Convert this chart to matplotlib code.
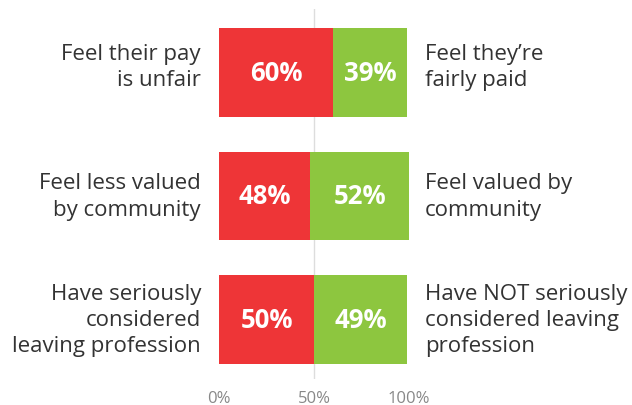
import matplotlib
matplotlib.use("Agg")
import matplotlib.pyplot as plt

plt.rcParams['font.family'] = ['Open Sans', 'DejaVu Sans']

# data
left_labels = ["Feel their pay\nis unfair",
               "Feel less valued\nby community",
               "Have seriously\nconsidered\nleaving profession"]
right_labels = ["Feel they\u2019re\nfairly paid",
                "Feel valued by\ncommunity",
                "Have NOT seriously\nconsidered leaving\nprofession"]
neg_vals = [60, 48, 50]
pos_vals = [39, 52, 49]
ticks = [0, 50, 100]
tick_labels = ["0%", "50%", "100%"]

red = "#EE3537"
green = "#8DC63F"
txt = "#333333"

fig = plt.figure(figsize=(6.32, 4.06), dpi=100)
W, H = 632, 406
# axes from x 219..409 px, y 10..380 px
ax = fig.add_axes([219 / W, (H - 380) / H, 190 / W, 370 / H])

y = list(range(len(neg_vals)))
ax.axvline(50, color="#dddddd", lw=1, zorder=0)
ax.barh(y, neg_vals, height=0.72, color=red, zorder=2)
ax.barh(y, pos_vals, left=neg_vals, height=0.72, color=green, zorder=2)

for i in y:
    n, p = neg_vals[i], pos_vals[i]
    ax.text(n / 2, i, f"{n}%", color="white", fontsize=18.5, fontweight="bold",
            ha="center", va="center", zorder=3)
    ax.text(n + p / 2, i, f"{p}%", color="white", fontsize=18.5, fontweight="bold",
            ha="center", va="center", zorder=3)
    # first row labels sit a little higher than the bar centre
    dy = -0.05 if i == 0 else 0
    ax.text(-9.5, i + dy, left_labels[i], color=txt, fontsize=16, ha="right",
            va="center", multialignment="right", linespacing=1.32, clip_on=False)
    ax.text(108.5, i + dy, right_labels[i], color=txt, fontsize=16, ha="left",
            va="center", multialignment="left", linespacing=1.32, clip_on=False)

ax.set_xlim(0, 100)
ax.set_ylim(2.482, -0.514)
ax.set_xticks(ticks)
ax.set_xticklabels(tick_labels, color="#888888", fontsize=12)
ax.tick_params(axis="x", length=0, pad=8)
ax.set_yticks([])
for s in ax.spines.values():
    s.set_visible(False)

fig.savefig("out.png", dpi=100)
